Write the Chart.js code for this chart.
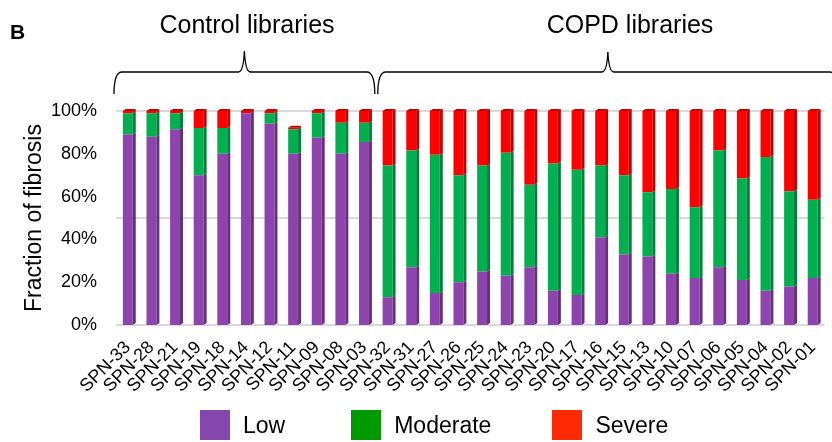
<!DOCTYPE html>
<html>
<head>
<meta charset="utf-8">
<script src="https://cdn.jsdelivr.net/npm/chart.js@4.4.1/dist/chart.umd.min.js"></script>
<style>
  html, body { margin: 0; padding: 0; background: #fff; }
  #wrap { position: relative; width: 832px; height: 442px; }
  #legend { position: absolute; left: 200px; top: 410px; display: flex; align-items: center;
            font-family: "Liberation Sans", Arial, sans-serif; font-size: 23px; color: #000; }
  #legend .item { display: flex; align-items: center; }
  #legend .box { width: 30px; height: 30px; margin-right: 13px; }
</style>
</head>
<body>
<div id="wrap">
  <canvas id="fibrosisChart" width="832" height="442"></canvas>
  <div id="legend"></div>
</div>
<script>
const libraries = ['SPN-33', 'SPN-28', 'SPN-21', 'SPN-19', 'SPN-18', 'SPN-14', 'SPN-12', 'SPN-11', 'SPN-09', 'SPN-08', 'SPN-03',
    'SPN-32', 'SPN-31', 'SPN-27', 'SPN-26', 'SPN-25', 'SPN-24', 'SPN-23', 'SPN-20', 'SPN-17', 'SPN-16',
    'SPN-15', 'SPN-13', 'SPN-10', 'SPN-07', 'SPN-06', 'SPN-05', 'SPN-04', 'SPN-02', 'SPN-01'];
const controlCount = 11;

// fraction of fibrosis per library
const lowValues = [0.89, 0.88, 0.915, 0.70, 0.80, 0.99, 0.94, 0.80, 0.875, 0.80, 0.855,
    0.13, 0.27, 0.15, 0.20, 0.25, 0.23, 0.27, 0.16, 0.14, 0.41,
    0.33, 0.32, 0.24, 0.22, 0.27, 0.21, 0.16, 0.18, 0.22];
const moderateValues = [0.10, 0.11, 0.075, 0.22, 0.12, 0.0, 0.05, 0.115, 0.115, 0.145, 0.09,
    0.615, 0.545, 0.645, 0.50, 0.495, 0.575, 0.385, 0.595, 0.585, 0.335,
    0.37, 0.30, 0.395, 0.33, 0.545, 0.475, 0.625, 0.445, 0.365];
const severeValues = [0.01, 0.01, 0.01, 0.08, 0.08, 0.01, 0.01, 0.007, 0.01, 0.055, 0.055,
    0.255, 0.185, 0.205, 0.30, 0.255, 0.195, 0.345, 0.245, 0.275, 0.255,
    0.30, 0.38, 0.365, 0.45, 0.185, 0.315, 0.215, 0.375, 0.415];

const yTicks = [0, 0.2, 0.4, 0.6, 0.8, 1.0];

const FONT = '"Liberation Sans", Arial, sans-serif';

const series = [
    { label: 'Low', data: lowValues, color: '#8E44AD', side: '#66307F', legend: '#8547AD' },
    { label: 'Moderate', data: moderateValues, color: '#00B050', side: '#00813A', legend: '#009900' },
    { label: 'Severe', data: severeValues, color: '#FF0000', side: '#BF0000', legend: '#FF2A00' }
];

// build the html legend
const legendEl = document.getElementById('legend');
series.forEach((s, i) => {
    const item = document.createElement('div');
    item.className = 'item';
    if (i < series.length - 1) item.style.marginRight = (i === 0 ? '66px' : '61px');
    item.innerHTML = '<div class="box" style="background:' + s.legend + '"></div><span>' + s.label + '</span>';
    legendEl.appendChild(item);
});

// fake 3d faces on the bars
const barDepth = {
    id: 'barDepth',
    afterDatasetsDraw(chart) {
        const ctx = chart.ctx;
        const dx = 3, dy = 2;
        ctx.save();
        chart.data.datasets.forEach((ds, di) => {
            const meta = chart.getDatasetMeta(di);
            meta.data.forEach((bar, i) => {
                if (!ds.data[i]) return;
                const p = bar.getProps(['x', 'y', 'base', 'width'], true);
                const right = p.x + p.width / 2;
                const left = p.x - p.width / 2;
                const top = Math.min(p.y, p.base);
                const bottom = Math.max(p.y, p.base);
                ctx.fillStyle = ds.sideColor;
                ctx.beginPath();
                ctx.moveTo(right, top);
                ctx.lineTo(right + dx, top - dy);
                ctx.lineTo(right + dx, bottom - dy);
                ctx.lineTo(right, bottom);
                ctx.closePath();
                ctx.fill();
                if (di === chart.data.datasets.length - 1) {
                    ctx.beginPath();
                    ctx.moveTo(left, top);
                    ctx.lineTo(left + dx, top - dy);
                    ctx.lineTo(right + dx, top - dy);
                    ctx.lineTo(right, top);
                    ctx.closePath();
                    ctx.fill();
                }
            });
        });
        ctx.restore();
    }
};

function drawBrace(ctx, x1, x2, xm, yPeak, yMid, yEnd) {
    const r = 8;
    ctx.beginPath();
    ctx.moveTo(x1, yEnd);
    ctx.quadraticCurveTo(x1, yMid, x1 + r, yMid);
    ctx.lineTo(xm - 6, yMid);
    ctx.quadraticCurveTo(xm - 1, yMid, xm, yPeak);
    ctx.quadraticCurveTo(xm + 1, yMid, xm + 6, yMid);
    ctx.lineTo(x2 - r, yMid);
    ctx.quadraticCurveTo(x2, yMid, x2, yEnd);
    ctx.stroke();
}

// group headers and braces above the bars
const groupHeaders = {
    id: 'groupHeaders',
    afterDraw(chart) {
        const ctx = chart.ctx;
        const xs = chart.scales.x;
        const step = xs.getPixelForValue(1) - xs.getPixelForValue(0);
        const split = xs.getPixelForValue(controlCount - 1) + step / 2;
        ctx.save();
        ctx.fillStyle = '#000';
        ctx.font = 'bold 21px ' + FONT;
        ctx.textAlign = 'left';
        ctx.textBaseline = 'middle';
        ctx.fillText('B', 10, 33);

        ctx.font = '25px ' + FONT;
        ctx.textAlign = 'center';
        ctx.fillText('Control libraries', 247, 26);
        ctx.fillText('COPD libraries', 630, 26);

        ctx.strokeStyle = '#000';
        ctx.lineWidth = 1.3;
        const left = chart.chartArea.left - 2;
        drawBrace(ctx, left, split - 1, (left + split - 1) / 2, 51, 72, 94);
        drawBrace(ctx, split + 2, chart.width + 6, (split + 2 + chart.width + 6) / 2, 52, 72, 94);
        ctx.restore();
    }
};

const ctx = document.getElementById('fibrosisChart').getContext('2d');
new Chart(ctx, {
    type: 'bar',
    data: {
        labels: libraries,
        datasets: series.map(s => ({
            label: s.label,
            data: s.data,
            backgroundColor: s.color,
            sideColor: s.side,
            borderWidth: 0,
            barPercentage: 0.42,
            categoryPercentage: 1.0
        }))
    },
    options: {
        responsive: false,
        devicePixelRatio: 1,
        animation: false,
        layout: { padding: { top: 111, left: 0, right: 2, bottom: 0 } },
        plugins: {
            legend: { display: false },
            tooltip: { enabled: false }
        },
        scales: {
            x: {
                stacked: true,
                grid: { display: false },
                border: { display: false },
                ticks: {
                    autoSkip: false,
                    minRotation: 45,
                    maxRotation: 45,
                    padding: 4,
                    color: '#000',
                    font: { family: FONT, size: 18 }
                },
                afterFit(scale) { scale.height = 117; }
            },
            y: {
                stacked: true,
                min: 0,
                max: 1,
                afterBuildTicks(scale) { scale.ticks = yTicks.map(v => ({ value: v })); },
                grid: { display: false, drawTicks: false },
                border: { display: false },
                ticks: {
                    padding: 19,
                    color: '#000',
                    font: { family: FONT, size: 18 },
                    callback: v => Math.round(v * 100) + '%'
                },
                title: {
                    display: true,
                    text: 'Fraction of fibrosis',
                    color: '#000',
                    font: { family: FONT, size: 23 },
                    padding: { top: 21, bottom: 0 }
                },
                afterFit(scale) { scale.width = 116; }
            },
            yGrid: {
                position: 'left',
                min: 0,
                max: 1,
                ticks: { display: false, stepSize: 0.5 },
                grid: { color: '#D9D9D9', lineWidth: 2, drawTicks: false },
                border: { display: false },
                afterFit(scale) { scale.width = 0; }
            }
        }
    },
    plugins: [barDepth, groupHeaders]
});
</script>
</body>
</html>
